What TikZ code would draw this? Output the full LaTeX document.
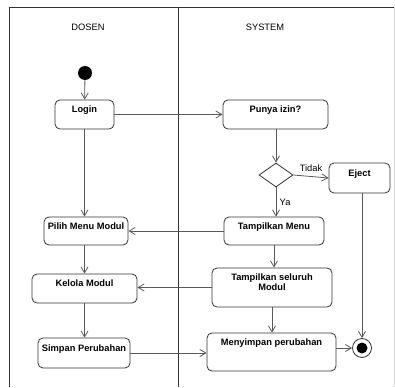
\documentclass[tikz,border=0pt]{standalone}
\usepackage{fontspec}
\setmainfont{Liberation Sans}
\usetikzlibrary{shapes.geometric,arrows.meta,positioning}

\begin{document}
\begin{tikzpicture}[x=1pt,y=-1pt,
    act/.style={draw=black!80, line width=0.8pt, rounded corners=5pt, fill=white},
    txt/.style={font=\fontsize{9.3}{10}\selectfont\bfseries, align=center, inner sep=0pt, anchor=base},
    lane/.style={font=\fontsize{9.3}{10}\selectfont},
    flow/.style={draw=black!65, line width=0.8pt, -{Straight Barb[length=6pt,width=7pt]}}]
    \useasboundingbox (0,0) rectangle (395,387);

    % swimlanes
    \draw[black!80, line width=0.8pt] (9,387) -- (9,7) -- (395,7);
    \draw[black!80, line width=0.8pt] (178,7) -- (178,387);
    \draw[black!15, line width=0.5pt] (394.5,7) -- (394.5,387);
    \node[lane] (dosen) at (88,27) {DOSEN};
    \node[lane] (system) at (265,27) {SYSTEM};

    % start and end
    \node[circle, fill=black, minimum size=14pt, inner sep=0pt] (start) at (85,73) {};
    \node[circle, draw=black!80, fill=white, line width=0.8pt, minimum size=19pt, inner sep=0pt] (end) at (362,348) {};
    \fill (end.center) circle (5.5);

    % DOSEN activities
    \node[act, minimum width=59pt, minimum height=29pt] (login) at (84.5,114.5) {};
    \node[txt] (loginTxt) at ([yshift=-12.5pt]login.north) {Login};

    \node[act, minimum width=84pt, minimum height=28pt] (pilih) at (86,231) {};
    \node[txt] (pilihTxt) at ([yshift=-12.5pt]pilih.north) {Pilih Menu Modul};

    \node[act, minimum width=105pt, minimum height=29pt] (kelola) at (84.5,288.5) {};
    \node[txt] (kelolaTxt) at ([yshift=-12.5pt]kelola.north) {Kelola Modul};

    \node[act, minimum width=92pt, minimum height=30pt] (simpan) at (84,353) {};
    \node[txt] (simpanTxt) at ([yshift=-13.5pt]simpan.north) {Simpan Perubahan};

    % SYSTEM activities
    \node[act, minimum width=105pt, minimum height=29pt] (punya) at (275.5,114.5) {};
    \node[txt] (punyaTxt) at ([yshift=-12.5pt]punya.north) {Punya izin?};

    \node[diamond, draw=black!80, fill=white, line width=0.8pt, minimum width=34pt, minimum height=24pt, inner sep=0pt] (izin) at (276,175) {};

    \node[act, minimum width=61pt, minimum height=30pt] (eject) at (359.5,178) {};
    \node[txt] (ejectTxt) at ([yshift=-13.5pt]eject.north) {Eject};

    \node[act, minimum width=100pt, minimum height=28pt] (menu) at (274,231) {};
    \node[txt] (menuTxt) at ([yshift=-12.5pt]menu.north) {Tampilkan Menu};

    \node[act, minimum width=120pt, minimum height=39pt] (seluruh) at (272,287.5) {};
    \node[txt] (seluruhTxt) at ([yshift=-23pt]seluruh.north) {Tampilkan seluruh\\Modul};

    \node[act, minimum width=129pt, minimum height=38pt] (menyimpan) at (271.5,352) {};
    \node[txt] (menyimpanTxt) at ([yshift=-12.5pt]menyimpan.north) {Menyimpan perubahan};

    % connectors
    \draw[flow] (start) -- (login);
    \draw[flow] (login) -- (punya);
    \draw[flow] (login.south) -- (login.south |- pilih.north);
    \draw[flow] (punya.south -| izin.north) -- (izin.north);
    \draw[flow] (izin.east) -- node[lane, above, pos=0.5, yshift=1pt] (tidak) {Tidak} (eject.west);
    \draw[flow] (izin.south) -- node[lane, right, pos=0.5] (ya) {Ya} (izin.south |- menu.north);
    \draw[flow] (menu.west) -- (pilih.east);
    \draw[flow] (pilih.south -| login.south) -- (kelola.north -| login.south);
    \draw[flow] (menu.south) -- (menu.south |- seluruh.north);
    \draw[flow] (seluruh.west) -- (seluruh.west -| kelola.east);
    \draw[flow] (kelola.south -| login.south) -- (simpan.north -| login.south);
    \draw[flow] (simpan.east) -- (simpan.east -| menyimpan.west);
    \draw[flow] (seluruh.south) -- (seluruh.south |- menyimpan.north);
    \draw[flow] (menyimpan.east |- end) -- (end);
    \draw[flow] (eject.south -| end.north) -- (end.north);
\end{tikzpicture}
\end{document}
